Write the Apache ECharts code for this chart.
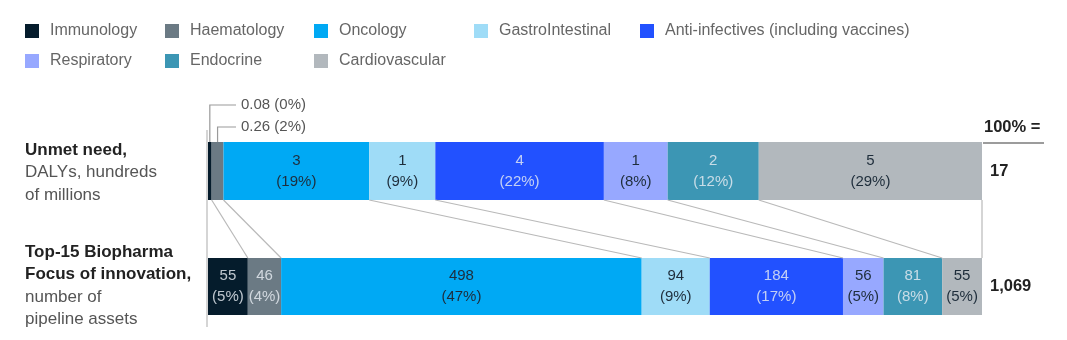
<!DOCTYPE html>
<html>
<head>
<meta charset="utf-8">
<script src="https://cdn.jsdelivr.net/npm/echarts@6/dist/echarts.min.js"></script>
<style>
  html, body { margin: 0; padding: 0; background: #fff; }
  #chart { width: 1067px; height: 340px; }
</style>
</head>
<body>
<div id="chart"></div>
<script>
// Therapeutic areas, in the order they are stacked left to right
const categories = [
  'Immunology', 'Haematology', 'Oncology', 'GastroIntestinal',
  'Anti-infectives (including vaccines)', 'Respiratory', 'Endocrine', 'Cardiovascular'
];
// Unmet need, DALYs in hundreds of millions
const unmetNeed = [0.08, 0.26, 3.2, 1.45, 3.7, 1.4, 2.0, 4.9];
// Top-15 biopharma pipeline assets per area
const pipelineAssets = [55, 46, 498, 94, 184, 56, 81, 55];

const colors = ['#051c2c', '#6b7a84', '#00a9f4', '#9fdcf7', '#2251ff', '#97a8ff', '#3c96b4', '#b2b8bd'];
const darkFill = [true, true, false, false, true, false, true, false];

const FONT = '"Liberation Sans", Arial, sans-serif';
const LEFT = 208, RIGHT_EDGE = 982;
const TOP_GRID = { top: 142, height: 58 };
const BOT_GRID = { top: 258, height: 57 };
const legendSlots = [[25, 30], [165, 30], [314, 30], [474, 30], [640, 30], [25, 60], [165, 60], [314, 60]];

const sum = a => a.reduce((s, v) => s + v, 0);
const needTotal = sum(unmetNeed);
const assetTotal = sum(pipelineAssets);
const fmtNeed = v => (v < 1 ? v.toFixed(2) : String(Math.round(v)));
const pct = (v, t) => '(' + Math.round(v / t * 100) + '%)';
const tooSmall = v => v / needTotal < 0.03;

const chart = echarts.init(document.getElementById('chart'), null, { renderer: 'canvas' });

const series = [];
categories.forEach((name, i) => {
  const textColor = darkFill[i] ? 'rgba(230,236,242,0.82)' : '#1e2d3b';
  series.push({
    type: 'bar', name, stack: 'need', xAxisIndex: 0, yAxisIndex: 0,
    barWidth: '100%', data: [unmetNeed[i]],
    itemStyle: { color: colors[i] },
    label: {
      show: !tooSmall(unmetNeed[i]), position: 'inside',
      formatter: p => fmtNeed(p.value) + '\n' + pct(p.value, needTotal),
      color: textColor, fontSize: 15, lineHeight: 21, fontFamily: FONT
    },
    emphasis: { disabled: true }
  });
  series.push({
    type: 'bar', name, stack: 'assets', xAxisIndex: 1, yAxisIndex: 1,
    barWidth: '100%', data: [pipelineAssets[i]],
    itemStyle: { color: colors[i] },
    label: {
      show: true, position: 'inside',
      formatter: p => p.value + '\n' + pct(p.value, assetTotal),
      color: textColor, fontSize: 15, lineHeight: 21, fontFamily: FONT
    },
    emphasis: { disabled: true }
  });
});

const legends = categories.map((name, i) => ({
  left: legendSlots[i][0], top: legendSlots[i][1] - 7,
  padding: 0, itemWidth: 14, itemHeight: 14, icon: 'rect',
  selectedMode: false, data: [name],
  textStyle: { color: '#666', fontSize: 16, fontFamily: FONT, padding: [0, 0, 0, 6] }
}));

chart.setOption({
  animation: false,
  legend: legends,
  grid: [
    { left: LEFT, width: RIGHT_EDGE - LEFT, top: TOP_GRID.top, height: TOP_GRID.height },
    { left: LEFT, width: RIGHT_EDGE - LEFT, top: BOT_GRID.top, height: BOT_GRID.height }
  ],
  xAxis: [
    { type: 'value', gridIndex: 0, min: 0, max: needTotal, show: false },
    { type: 'value', gridIndex: 1, min: 0, max: assetTotal, show: false }
  ],
  yAxis: [
    { type: 'category', gridIndex: 0, data: ['need'], show: false },
    { type: 'category', gridIndex: 1, data: ['assets'], show: false }
  ],
  series
});

// Connectors, side labels and totals
const g = [];
const lineStyle = { stroke: '#b9b9b9', lineWidth: 1.2 };
const topBarBottom = TOP_GRID.top + TOP_GRID.height;
const botBarTop = BOT_GRID.top;
const xNeed = v => chart.convertToPixel({ xAxisIndex: 0 }, v);
const xAsset = v => chart.convertToPixel({ xAxisIndex: 1 }, v);

let cumNeed = 0, cumAsset = 0;
for (let i = 0; i < categories.length - 1; i++) {
  cumNeed += unmetNeed[i];
  cumAsset += pipelineAssets[i];
  g.push({ type: 'line', z: 5, shape: { x1: xNeed(cumNeed), y1: topBarBottom, x2: xAsset(cumAsset), y2: botBarTop }, style: lineStyle });
}
// outer edges
g.push({ type: 'line', z: 5, shape: { x1: xNeed(0) - 1, y1: 130, x2: xAsset(0) - 1, y2: 327 }, style: lineStyle });
g.push({ type: 'line', z: 5, shape: { x1: xNeed(needTotal), y1: topBarBottom, x2: xAsset(assetTotal), y2: botBarTop }, style: lineStyle });

// call-outs for segments too narrow to hold their label
let start = 0, row = 0;
unmetNeed.forEach((v, i) => {
  if (tooSmall(v)) {
    const cx = xNeed(start + v / 2);
    const ry = 105 + row * 22;
    g.push({ type: 'polyline', z: 5, shape: { points: [[cx, TOP_GRID.top], [cx, ry], [236, ry]] }, style: { stroke: '#9a9a9a', lineWidth: 1.2, fill: null } });
    g.push({ type: 'text', z: 5, style: { x: 241, y: ry, text: fmtNeed(v) + ' ' + pct(v, needTotal), fill: '#555', font: '15px ' + FONT, verticalAlign: 'middle' } });
    row++;
  }
  start += v;
});

// row titles
const rowText = (lines, y0) => lines.forEach((ln, k) => g.push({
  type: 'text', style: { x: 25, y: y0 + k * 22.5, text: ln[0], fill: ln[1] ? '#222' : '#555', font: (ln[1] ? 'bold ' : '') + '17px ' + FONT, verticalAlign: 'middle' }
}));
rowText([['Unmet need,', true], ['DALYs, hundreds', false], ['of millions', false]], 150);
rowText([['Top-15 Biopharma', true], ['Focus of innovation,', true], ['number of', false], ['pipeline assets', false]], 252);

// totals column
g.push({ type: 'text', style: { x: 984, y: 127, text: '100% =', fill: '#222', font: 'bold 16.5px ' + FONT, verticalAlign: 'middle' } });
g.push({ type: 'line', shape: { x1: 983, y1: 143, x2: 1044, y2: 143 }, style: { stroke: '#9c9c9c', lineWidth: 2 } });
g.push({ type: 'text', style: { x: 990, y: TOP_GRID.top + TOP_GRID.height / 2, text: String(Math.round(needTotal)), fill: '#222', font: 'bold 16.5px ' + FONT, verticalAlign: 'middle' } });
g.push({ type: 'text', style: { x: 990, y: BOT_GRID.top + BOT_GRID.height / 2, text: assetTotal.toLocaleString('en-US'), fill: '#222', font: 'bold 16.5px ' + FONT, verticalAlign: 'middle' } });

chart.setOption({ graphic: g });
</script>
</body>
</html>
